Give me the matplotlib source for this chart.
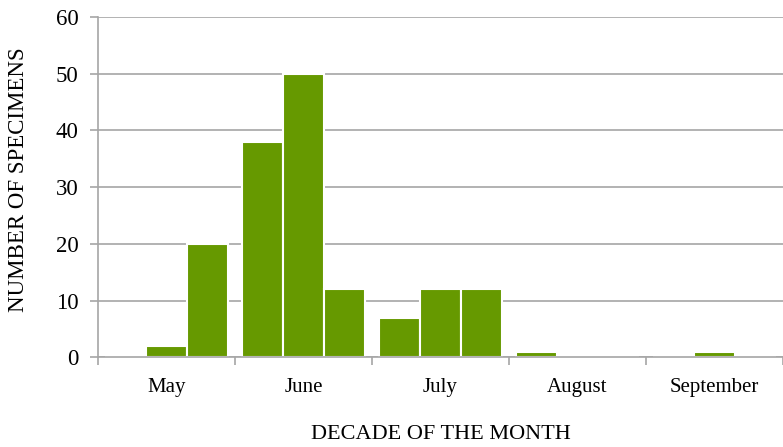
import numpy as np
import matplotlib
matplotlib.use("Agg")
import matplotlib.pyplot as plt

plt.rcParams['font.family'] = ['Liberation Serif', 'DejaVu Serif']

# specimens per decade (1st, 2nd, 3rd) of each month
months = ['May', 'June', 'July', 'August', 'September']
decade1 = [0, 38, 7, 1, 0]
decade2 = [2, 50, 12, 0, 1]
decade3 = [20, 12, 12, 0, 0]

green = '#669900'
grey = '#a6a6a6'

fig = plt.figure(figsize=(7.83, 4.47), dpi=100)
W, H = 783, 447
ax = fig.add_axes([98 / W, 1 - 357.3 / H, (783 - 98) / W, (357.3 - 17) / H])

x = np.arange(len(months))
slot = 41 / 138
for i, vals in enumerate([decade1, decade2, decade3]):
    ax.bar(x + (i - 1) * slot, vals, width=slot, color=green,
           edgecolor='white', linewidth=1.5, zorder=2)

ax.set_xlim(-0.5, -0.5 + 685 / 138)
ax.set_ylim(0, 60)
ax.set_yticks(range(0, 61, 10))
ax.yaxis.grid(True, color=grey, linewidth=1.2, zorder=1)
ax.set_axisbelow(True)

ax.set_xticks(x)
ax.set_xticklabels(months, fontsize=15)
ax.set_xticks(np.arange(-0.5, 5, 1), minor=True)
ax.tick_params(axis='x', which='major', length=0, pad=15)
ax.tick_params(axis='x', which='minor', length=6, width=1.2, color=grey,
               direction='out')
ax.tick_params(axis='y', length=6, width=1.2, color=grey, labelsize=16.5, pad=8)

for s in ['top', 'right']:
    ax.spines[s].set_visible(False)
for s in ['left', 'bottom']:
    ax.spines[s].set_color(grey)
    ax.spines[s].set_linewidth(1.2)
    ax.spines[s].set_zorder(3)

ax.set_xlabel('DECADE OF THE MONTH', fontsize=16, labelpad=20)
ax.set_ylabel('NUMBER OF SPECIMENS', fontsize=16.5)
ax.yaxis.set_label_coords((29 - 98) / 685, (357.3 - 180) / 340.3)

fig.savefig('out.png', dpi=100)
